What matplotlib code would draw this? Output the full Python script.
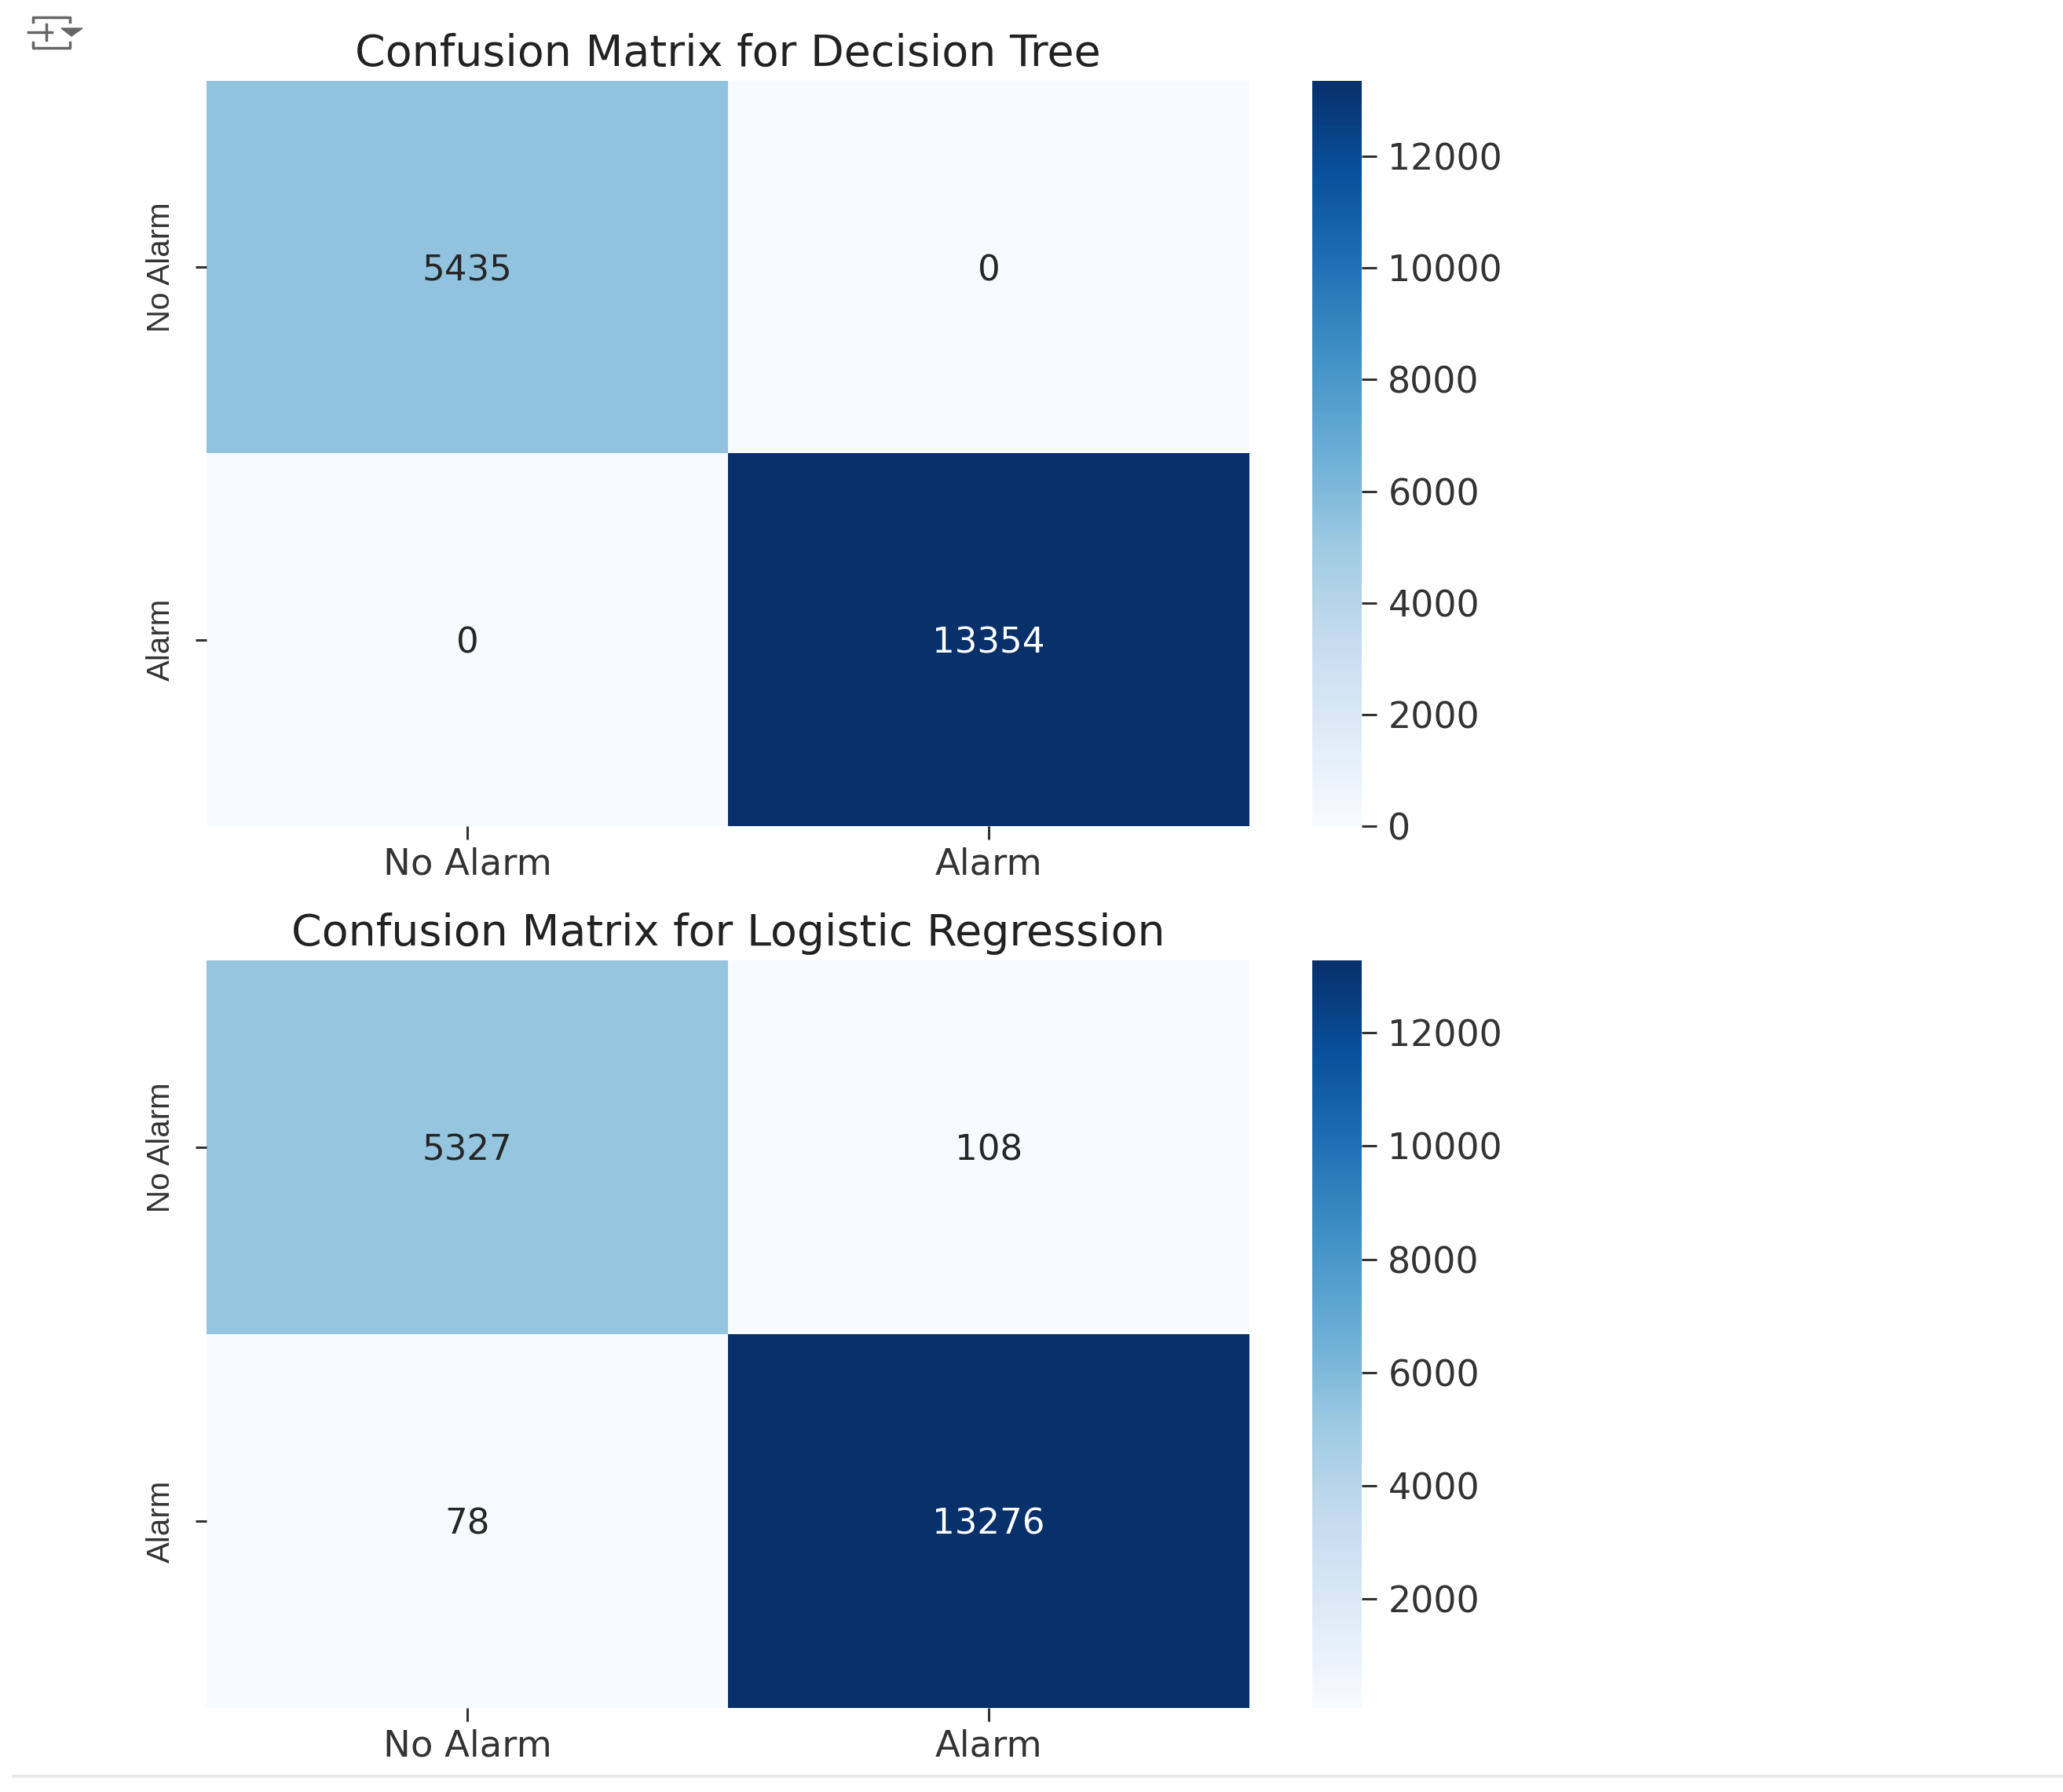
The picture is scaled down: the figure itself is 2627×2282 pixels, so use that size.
import numpy as np
import matplotlib
matplotlib.use('Agg')
import matplotlib.pyplot as plt
from matplotlib.lines import Line2D
from matplotlib.patches import Polygon
import seaborn as sns

W, H = 2627, 2282

labels = ['No Alarm', 'Alarm']
titles = ['Confusion Matrix for Decision Tree', 'Confusion Matrix for Logistic Regression']
cm_tree = np.array([[5435, 0], [0, 13354]])
cm_logreg = np.array([[5327, 108], [78, 13276]])
matrices = [cm_tree, cm_logreg]

col_text = '#333333'


def px_axes(fig, x0, y0, x1, y1):
    """Axes from pixel box, y measured from the top of the image."""
    return fig.add_axes([x0 / W, 1 - y1 / H, (x1 - x0) / W, (y1 - y0) / H])


def fig_line(fig, xs, ys, **kw):
    fig.add_artist(Line2D([x / W for x in xs], [1 - y / H for y in ys],
                          transform=fig.transFigure, **kw))


fig = plt.figure(figsize=(W / 100, H / 100), dpi=100)

tops = [(103, 1052), (1223, 2175)]
for cm, title, (y0, y1) in zip(matrices, titles, tops):
    ax = px_axes(fig, 263, y0, 1591, y1)
    cax = px_axes(fig, 1671, y0, 1734, y1)
    sns.heatmap(cm, annot=True, fmt='d', cmap='Blues', ax=ax, cbar_ax=cax,
                xticklabels=labels, yticklabels=labels,
                annot_kws={'fontsize': 32.5, 'va': 'center_baseline'})
    ax.set_title(title, fontsize=40, color='#222222', pad=14)
    ax.tick_params(axis='x', length=12, width=2.2, color=col_text,
                   labelsize=33.5, labelcolor=col_text, pad=7)
    ax.tick_params(axis='y', length=10, width=2.2, color=col_text, pad=18)
    for t in ax.get_yticklabels():
        t.set_family('Liberation Sans')
        t.set_fontsize(29)
        t.set_color(col_text)
        t.set_rotation(90)
        t.set_va('center')
    cax.tick_params(length=14, width=2.2, color=col_text,
                    labelsize=33, labelcolor=col_text, pad=10)

# output-cell icon at the top left
icon = dict(color='#666666', linewidth=2.5)
fig_line(fig, [42, 42, 89, 89], [28, 22, 22, 28], **icon)
fig_line(fig, [42, 42, 89, 89], [54, 61, 61, 54], **icon)
fig_line(fig, [36, 66], [41, 41], **icon)
fig_line(fig, [59, 59], [31, 51], **icon)
fig.add_artist(Polygon([(78 / W, 1 - 36 / H), (105 / W, 1 - 36 / H), (91 / W, 1 - 46 / H)],
                       closed=True, transform=fig.transFigure, color='#666666'))

# cell divider at the bottom
fig_line(fig, [17, W], [2262, 2262], color='#e8e8e8', linewidth=3)

fig.savefig('out.png', dpi=100)
